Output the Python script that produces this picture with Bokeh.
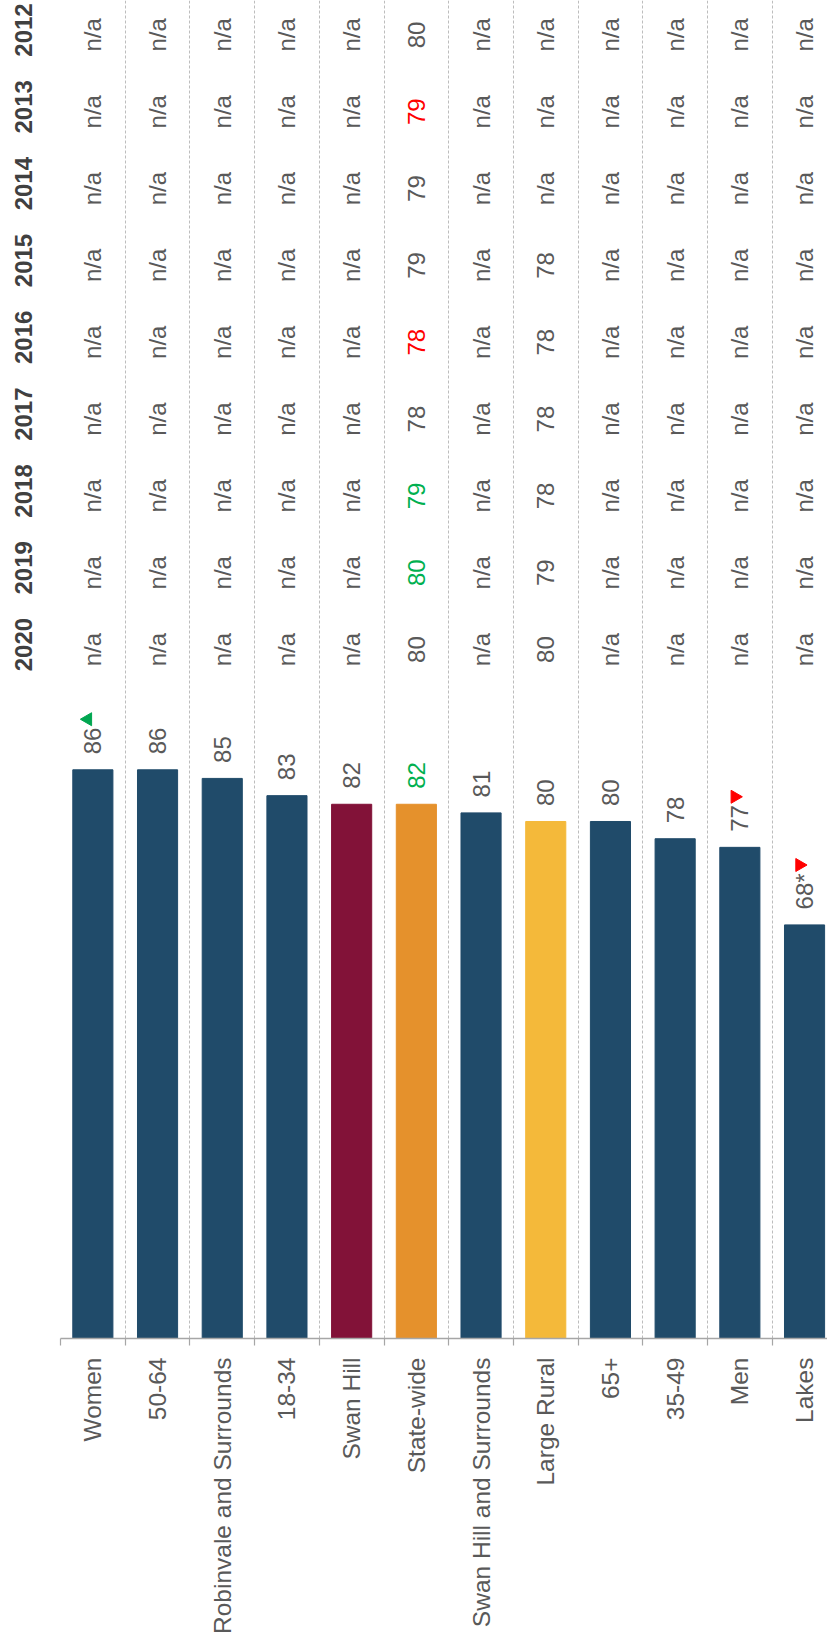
import math

from bokeh.core.properties import value
from bokeh.embed import file_html
from bokeh.models import ColumnDataSource, FixedTicker, Grid, LinearAxis, Range1d
from bokeh.plotting import figure
from bokeh.resources import INLINE

# ---- data -------------------------------------------------------------
categories = ["Women", "50-64", "Robinvale and Surrounds", "18-34", "Swan Hill",
              "State-wide", "Swan Hill and Surrounds", "Large Rural", "65+",
              "35-49", "Men", "Lakes"]
scores = [86, 86, 85, 83, 82, 82, 81, 80, 80, 78, 77, 68]
score_notes = ["", "", "", "", "", "", "", "", "", "", "", "*"]
score_tone = ["", "", "", "", "", "up", "", "", "", "", "", ""]
score_arrows = ["up", "", "", "", "", "", "", "", "", "", "down", "down"]

years = ["2020", "2019", "2018", "2017", "2016", "2015", "2014", "2013", "2012"]
statewide_history = [80, 80, 79, 78, 78, 79, 79, 79, 80]
statewide_tone = ["", "up", "up", "", "down", "", "", "down", ""]
large_rural_history = [80, 79, 78, 78, 78, 78, None, None, None]
large_rural_tone = ["", "", "", "", "", "", "", "", ""]

# ---- styling ----------------------------------------------------------
NAVY, MAROON, ORANGE, GOLD = "#204B6A", "#821238", "#E5912C", "#F4B93A"
bar_colors = {"Swan Hill": MAROON, "State-wide": ORANGE, "Large Rural": GOLD}
TEXT = "#595959"
YEAR_TEXT = "#404040"
TONE = {"": TEXT, "up": "#00B050", "down": "#FF0000"}
ARROW_COLOR = {"up": "#00A650", "down": "#FF0000"}
FONT = "Liberation Sans"
FS = 24
DIGIT_EM = 0.556

W, H = 827, 1636
LEFT, BOTTOM = 60, 295
FRAME_W, FRAME_H = W - LEFT, H - BOTTOM
CAT_PX = 64.7          # width of one category slot
PX_PER_UNIT = 8.636    # vertical pixels per score point
BASE = 20              # score at the bar baseline
ROW_PX = 77            # spacing of the yearly columns
ROW0_PX = 645.5        # screen position of the first (2020) column

x_range = Range1d(0, FRAME_W / CAT_PX)
y_range = Range1d(BASE, BASE + FRAME_H / PX_PER_UNIT)

p = figure(width=W, height=H, x_range=x_range, y_range=y_range,
           output_backend="svg", toolbar_location=None,
           x_axis_location=None, y_axis_location=None,
           min_border_left=LEFT, min_border_right=0,
           min_border_top=0, min_border_bottom=BOTTOM)
p.outline_line_color = None
p.background_fill_color = "white"
p.border_fill_color = "white"
p.grid.visible = False

# row coordinate system for the yearly table (row 0 = 2020, increasing upwards)
p.extra_y_ranges = {"rows": Range1d(-(FRAME_H - ROW0_PX) / ROW_PX, ROW0_PX / ROW_PX)}

n = len(categories)
centers = [i + 0.5 for i in range(n)]
bounds = list(range(n + 1))

# dashed category separators
p.add_layout(Grid(dimension=0, ticker=FixedTicker(ticks=bounds),
                  grid_line_color="#BDBDBD", grid_line_dash="3 2",
                  grid_line_width=1))

# ---- bars -------------------------------------------------------------
bars = ColumnDataSource(dict(
    x=centers,
    score=scores,
    color=[bar_colors.get(c, NAVY) for c in categories],
    label=[f"{s}{note}" for s, note in zip(scores, score_notes)],
    label_color=[TONE[t] for t in score_tone],
))
p.vbar(x="x", width=0.62, bottom=BASE, top="score", source=bars,
       fill_color="color", line_color="color", line_width=1)

p.text(x="x", y="score", text="label", source=bars, angle=math.pi / 2,
       text_align="left", text_baseline="middle", y_offset=-15.5,
       text_color="label_color", text_font=value(FONT),
       text_font_size=f"{FS}px")


# significance arrows sit just past the end of each value label
def label_width(s):
    return sum(0.389 if ch == "*" else DIGIT_EM for ch in s) * FS


ax, ay, amark, acol = [], [], [], []
for i, (s, note, arrow) in enumerate(zip(scores, score_notes, score_arrows)):
    if not arrow:
        continue
    w = label_width(f"{s}{note}")
    ax.append(centers[i] - 5 / CAT_PX)
    ay.append(s + (15.5 + w + 8.5) / PX_PER_UNIT)
    amark.append("triangle" if arrow == "up" else "inverted_triangle")
    acol.append(ARROW_COLOR[arrow])
p.scatter(x=ax, y=ay, marker=amark, size=13, angle=math.pi / 2,
          fill_color=acol, line_color=acol)

# ---- yearly table -----------------------------------------------------
history = {"State-wide": (statewide_history, statewide_tone),
           "Large Rural": (large_rural_history, large_rural_tone)}
tx, ty, tt, tc = [], [], [], []
for r, yr in enumerate(years):
    for i, cat in enumerate(categories):
        vals, tones = history.get(cat, ([None] * len(years), [""] * len(years)))
        v = vals[r]
        tx.append(centers[i])
        ty.append(r)
        tt.append("n/a" if v is None else str(v))
        tc.append(TONE[tones[r]])
table = ColumnDataSource(dict(x=tx, y=ty, text=tt, color=tc))
p.text(x="x", y="y", text="text", source=table, y_range_name="rows",
       angle=math.pi / 2, text_align="center", text_baseline="middle",
       y_offset=5, text_color="color", text_font=value(FONT),
       text_font_size=f"{FS}px")

# year headings: the rotated labels hang from their tick, so each tick is
# placed half a label length above the column centre
year_ticks = [r + (len(yr) * DIGIT_EM * FS / 2) / ROW_PX for r, yr in enumerate(years)]
year_axis = LinearAxis(
    y_range_name="rows",
    ticker=FixedTicker(ticks=year_ticks),
    major_label_overrides={t: yr for t, yr in zip(year_ticks, years)},
    major_label_orientation=math.pi / 2,
    axis_line_color=None, major_tick_line_color=None, minor_tick_line_color=None,
    major_tick_in=0, major_tick_out=0, major_label_standoff=37,
    major_label_text_font=FONT, major_label_text_font_style="bold",
    major_label_text_font_size=f"{FS}px", major_label_text_color=YEAR_TEXT,
)
p.add_layout(year_axis, "left")

# category axis with tick marks between the categories
cat_axis = LinearAxis(
    ticker=FixedTicker(ticks=centers, minor_ticks=bounds),
    major_label_overrides={c: name for c, name in zip(centers, categories)},
    major_label_orientation=math.pi / 2,
    axis_line_color="#A6A6A6", axis_line_width=1.5,
    major_tick_line_color=None, major_tick_in=0, major_tick_out=0,
    minor_tick_line_color="#A6A6A6", minor_tick_line_width=1.2,
    minor_tick_in=0, minor_tick_out=7,
    major_label_standoff=12,
    major_label_text_font=FONT, major_label_text_font_size="24.5px",
    major_label_text_color=TEXT,
)
p.add_layout(cat_axis, "below")

open("out.html", "w").write(file_html(p, INLINE))
